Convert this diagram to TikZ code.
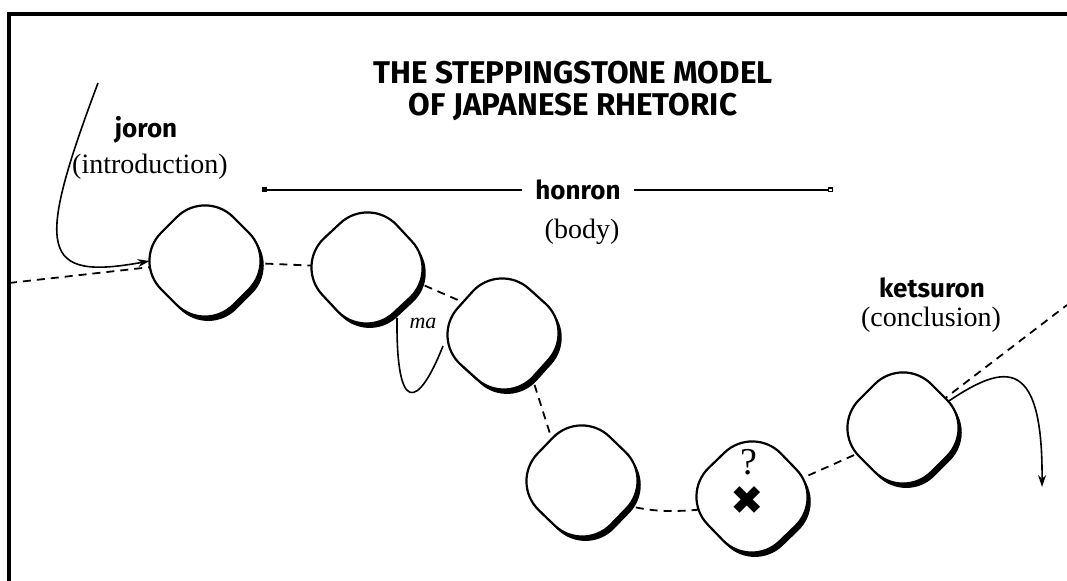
\documentclass[tikz,border=0pt]{standalone}
\usepackage{fontspec}
\setmainfont{Liberation Serif}
\newfontfamily\brushfont{Fira Sans}
\newfontfamily\dingfont{DejaVu Sans}
\usetikzlibrary{calc, arrows.meta, backgrounds}

\begin{document}
\begin{tikzpicture}[x=0.5pt, y=0.5pt,
    stone/.style={circle, minimum size=46pt, inner sep=0pt},
    stoneline/.style={draw, fill=white, line width=1.1pt, rounded corners=20pt},
    stoneshadow/.style={fill=black, rounded corners=20pt},
    link/.style={line width=0.9pt, dash pattern=on 4pt off 3pt},
    curl/.style={line width=0.8pt, -{Stealth[length=6pt,width=4pt]}},
    bar/.style={line width=0.6pt},
    stage/.style={font=\brushfont\bfseries\fontsize{13}{13}\selectfont},
    gloss/.style={font=\fontsize{14}{14}\selectfont}]
    \useasboundingbox (0,0) rectangle (1067,581);
    % frame
    \draw[line width=1.7pt] (9,0) |- (1067,567);
    % title
    \node[align=center, font=\brushfont\bfseries\fontsize{15.7}{16}\selectfont] (title) at (573,490) {THE STEPPINGSTONE MODEL\\OF JAPANESE RHETORIC};
    % labels
    \node[stage] (joron) at (146,451) {joron};
    \node[gloss] (intro) at (150,414) {(introduction)};
    \node[stage, inner sep=6.5pt] (honron) at (578,391) {honron};
    \node[gloss] (body) at (582,349) {(body)};
    \node[stage] (ketsuron) at (932,293) {ketsuron};
    \node[gloss] (concl) at (931,261) {(conclusion)};
    \node[font=\itshape\fontsize{11}{11}\selectfont] (ma) at (423,258) {ma};
    % stones
    \node[stone] (A) at (205,320) {};
    \node[stone] (B) at (367,313) {};
    \node[stone] (C) at (503,247) {};
    \node[stone] (D) at (582,100) {};
    \node[stone] (E) at (752,84) {};
    \node[stone] (F) at (903,153) {};
    \foreach \s/\a in {A/45,B/43,C/48,D/46,E/44,F/45} {
        \fill[stoneshadow, shift={(\s)}, xshift=1.6pt, yshift=-2.2pt, rotate=\a] (-51,-51) rectangle (51,51);
        \path[stoneline, shift={(\s)}, rotate=\a] (-51,-51) rectangle (51,51);
    }
    \node[font=\fontsize{19}{19}\selectfont] (qmark) at (749,119) {?};
    \node[font=\dingfont\fontsize{20}{20}\selectfont] (cross) at (747,80) {✖};
    % free ends
    \coordinate (inL) at (9,298);
    \coordinate (outR) at (1067,276);
    \coordinate (jtop) at (98,498);
    \coordinate (outK) at (1042,94);
    \coordinate (barL) at (262,391);
    \coordinate (barR) at (833,391);
    \coordinate (maL) at (397,263);
    \coordinate (maR) at (443,235);
    % honron span
    \draw[bar, {Square[length=2.5pt,width=2.5pt]}-] (barL) -- (honron.west);
    \draw[bar, -{Square[open,length=2.5pt,width=2.5pt]}] (honron.east) -- (barR);
    % ma gap
    \draw[line width=0.8pt] (maL) .. controls (396,165) and (418,172) .. (maR);
    % path through the stones
    \begin{scope}[on background layer]
        \draw[link] (inL) -- (A);
        \draw[link] (A) -- (B);
        \draw[link] (B.-15) -- (C.140);
        \draw[link] (C.-54) -- (D.128);
        \draw[link] (D.-30) to[out=-15, in=185] (E.195);
        \draw[link] (E.20) -- (F.210);
        \draw[link] (F.35) -- (outR);
        \draw[curl] (jtop) .. controls (35,330) and (40,300) .. ([xshift=-4.5pt]A.180);
        \draw[curl] (F.30) .. controls (1000,215) and (1043,232) .. (outK);
    \end{scope}
\end{tikzpicture}
\end{document}
